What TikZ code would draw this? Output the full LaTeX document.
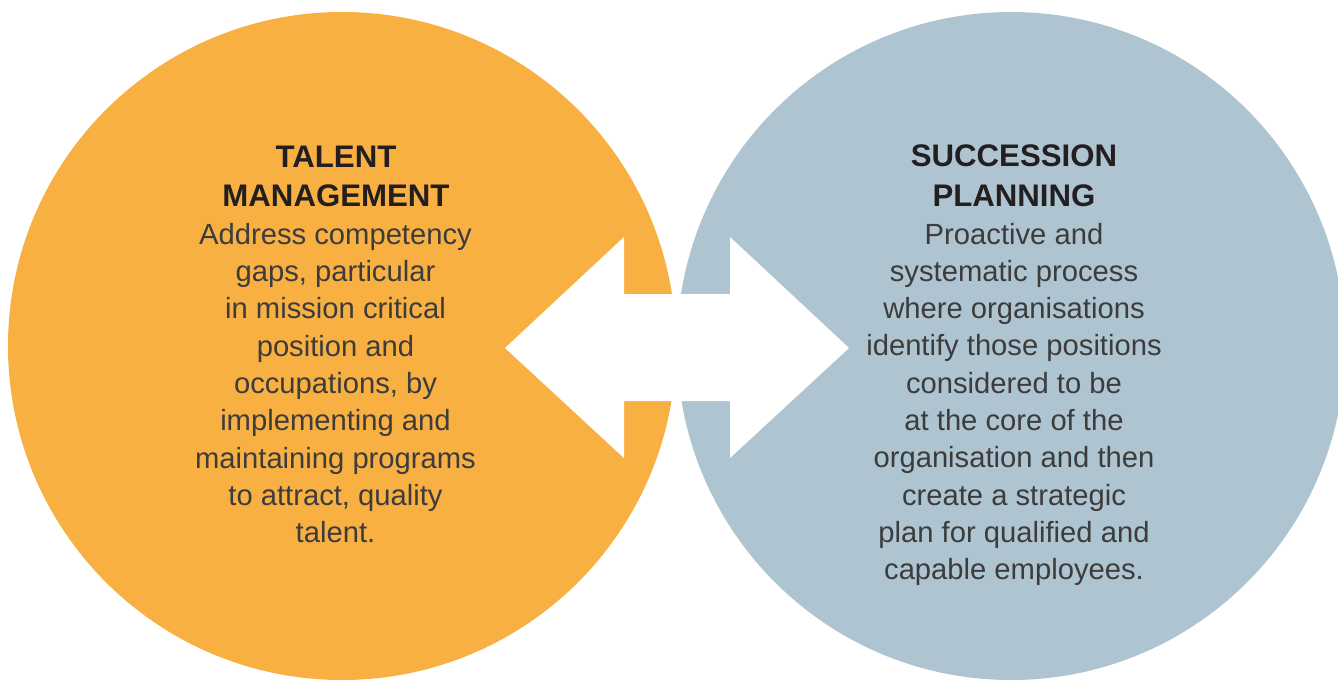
\documentclass[tikz,border=0pt]{standalone}
\usepackage{fontspec}
\setmainfont{Liberation Sans}
\definecolor{tmorange}{RGB}{249,176,66}
\definecolor{spblue}{RGB}{174,196,209}
\definecolor{titlec}{RGB}{35,31,32}
\definecolor{bodyc}{RGB}{60,60,60}
\tikzset{
  headline/.style={font=\bfseries\fontsize{15.6}{18}\selectfont, text=titlec, anchor=base, inner sep=0pt},
  bodyline/.style={font=\fontsize{14.6}{17}\selectfont, text=bodyc, anchor=base, inner sep=0pt}
}
\begin{document}
\begin{tikzpicture}[x=0.5pt,y=-0.5pt]
\useasboundingbox (0,0) rectangle (1338,680);
\begin{scope}
\clip (0,0) rectangle (1338,680);
\fill[tmorange] (342,346) circle [radius=334];
\fill[spblue] (1011,346) circle [radius=334];
\end{scope}
% double arrow
\fill[white] (505,348) -- (624,237) -- (624,294) -- (730,294) -- (730,237)
  -- (849,348) -- (730,458) -- (730,401) -- (624,401) -- (624,458) -- cycle;
% left text
\node[headline] (tm1) at (336,167.3) {TALENT};
\node[headline] (tm2) at (336,206.7) {MANAGEMENT};
\foreach \t [count=\i] in {Address competency, {gaps, particular}, in mission critical, position and, {occupations, by}, implementing and, maintaining programs, {to attract, quality}, talent.}{
  \node[bodyline] (tmb\i) at (335.5,{244.3+(\i-1)*37.3}) {\t};
}
% right text
\node[headline] (sp1) at (1014,166.7) {SUCCESSION};
\node[headline] (sp2) at (1014,206) {PLANNING};
\foreach \t [count=\i] in {Proactive and, systematic process, where organisations, identify those positions, considered to be, at the core of the, organisation and then, create a strategic, plan for qualified and, capable employees.}{
  \node[bodyline] (spb\i) at (1014,{244+(\i-1)*37.3}) {\t};
}
\end{tikzpicture}
\end{document}
